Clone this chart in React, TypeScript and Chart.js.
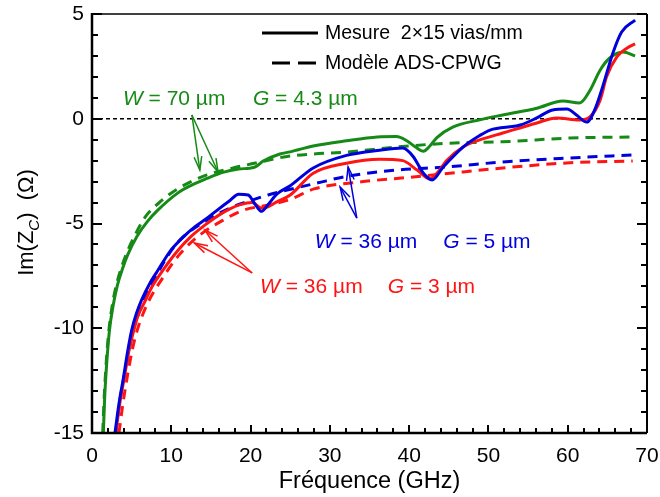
import React, { useEffect, useRef } from "react";
import { Chart, registerables } from "chart.js";
Chart.register(...registerables);

const FONT = "'Liberation Sans', Arial, Helvetica, sans-serif";

// axis ranges / ticks
const xMin = 0, xMax = 70, xMajor = 10, xMinor = 2;
const yMin = -15, yMax = 5, yMajor = 5, yMinor = 1;

// W = 70 µm, G = 4.3 µm — measurement
const fGreenMeas = [1.43, 1.6, 1.85, 2.2, 2.65, 3.2, 3.9, 4.5, 5.7, 7, 8.2, 10.8, 12.4, 14.5, 16.5, 18.5, 19.9, 20.6, 21.6, 23.7, 25, 27.9, 32.1, 36, 38.4, 39.7, 40.8, 41.8, 42.5, 43.5, 45.5, 48.9, 51.8, 56.1, 59.4, 61.5, 62.8, 64.1, 65.3, 67, 68.5];
const zGreenMeas = [-15, -13.3, -11.7, -10.1, -8.95, -7.95, -7.1, -6.5, -5.6, -4.9, -4.4, -3.55, -3.2, -2.85, -2.56, -2.4, -2.36, -2.3, -2.02, -1.68, -1.58, -1.3, -1.05, -0.87, -0.85, -1.05, -1.35, -1.55, -1.35, -0.9, -0.4, -0.05, 0.18, 0.5, 0.85, 0.75, 1.35, 2.33, 2.9, 3.19, 3.0];
// W = 70 µm — model
const fGreenModel = [1.35, 1.55, 1.8, 2.1, 2.6, 3.1, 3.8, 4.5, 5.3, 6.7, 8.8, 11, 14.5, 17.8, 20.8, 24.6, 28, 32.1, 38.4, 44.8, 51.8, 60.3, 68.5];
const zGreenModel = [-15, -13.2, -11.6, -10.2, -8.8, -7.9, -7.0, -6.3, -5.65, -4.7, -3.9, -3.3, -2.68, -2.35, -2.1, -1.8, -1.68, -1.59, -1.35, -1.17, -1.1, -0.92, -0.87];

// W = 36 µm, G = 5 µm — measurement
const fBlueMeas = [2.9, 3.4, 3.95, 4.5, 5.0, 5.6, 6.26, 7.3, 8.2, 9.8, 11.5, 13, 14.5, 16, 17.4, 18.5, 19.7, 20.6, 21.4, 22.2, 23.3, 25, 27.9, 32.1, 36.3, 39.2, 40.5, 41.8, 42.9, 44.3, 46.8, 48.9, 50.2, 54, 56.1, 58.1, 59.9, 61.1, 62.4, 63.4, 64.4, 65.7, 66.8, 68.5];
const zBlueMeas = [-15, -13.6, -12.4, -11.1, -10.1, -9.3, -8.65, -7.85, -7.3, -6.35, -5.65, -5.15, -4.75, -4.3, -3.9, -3.6, -3.64, -4.1, -4.42, -4.1, -3.6, -3.2, -2.35, -1.75, -1.5, -1.4, -1.8, -2.6, -2.92, -2.3, -1.35, -0.8, -0.54, -0.3, 0.04, 0.42, 0.46, 0.18, -0.16, 0.42, 1.52, 3.14, 4.14, 4.71];
// W = 36 µm, G = 5 µm — model
const fBlueModel = [3.0, 3.5, 4.1, 4.7, 5.2, 6.3, 8.3, 10.7, 14.2, 17.8, 19.5, 22.2, 24.1, 28.4, 32.1, 38.4, 44.8, 51.8, 60.3, 68.2];
const zBlueModel = [-15, -13.5, -12.2, -11.0, -10.1, -8.9, -7.35, -5.95, -4.9, -4.2, -3.97, -3.64, -3.45, -3.07, -2.75, -2.45, -2.3, -2.06, -1.87, -1.73];

// W = 36 µm, G = 3 µm — measurement
const fRedMeas = [3.0, 3.5, 4.1, 4.7, 5.2, 5.8, 6.7, 7.6, 9.0, 10.8, 12.4, 14.5, 16, 17.4, 18.7, 20.2, 21.4, 22.2, 23.3, 25, 27.9, 32.1, 36.3, 39.2, 41, 42.6, 43.5, 44.8, 46.8, 48.9, 51.8, 56.1, 58.6, 61.5, 62.8, 64.1, 64.9, 66.2, 67.5, 68.5];
const zRedMeas = [-15, -13.6, -12.3, -11.0, -10.2, -9.4, -8.7, -8.0, -7.2, -6.3, -5.65, -5.0, -4.6, -4.3, -4.1, -4.0, -4.26, -4.2, -3.97, -3.64, -2.6, -2.12, -1.93, -2.0, -2.45, -2.87, -2.6, -1.97, -1.35, -1.01, -0.68, -0.2, 0.04, -0.06, 0.09, 0.9, 2.0, 2.95, 3.38, 3.57];
// W = 36 µm, G = 3 µm — model
const fRedModel = [3.4, 3.9, 4.5, 5.1, 5.7, 6.9, 9.0, 11.1, 13.6, 16.5, 19, 22.4, 25, 28, 34.2, 40.5, 46.8, 51.8, 60.3, 68.2];
const zRedModel = [-15, -13.6, -12.2, -11.0, -10.1, -8.9, -7.55, -6.45, -5.55, -4.85, -4.38, -4.1, -3.85, -3.35, -3.0, -2.78, -2.54, -2.35, -2.1, -2.02];

// zero reference line
const fZero = [0, 70];
const zZero = [0, 0];

const GREEN = "#168a16";
const BLUE = "#0000dc";
const RED = "#ff1414";

const pts = (f: number[], z: number[]) => f.map((x, i) => ({ x, y: z[i] }));

// annotations (data coordinates)
const annotations = [
  { color: GREEN, wLabel: "70", gLabel: "4.3", wAt: [3.9, 0.656], gAt: [20.3, 0.656], tail: [12.6, 0.18], heads: [[13.6, -2.45], [15.9, -2.54]] },
  { color: BLUE, wLabel: "36", gLabel: "5", wAt: [28.1, -6.17], gAt: [44.3, -6.17], tail: [33.4, -4.74], heads: [[32.3, -2.3], [31.3, -3.26]] },
  { color: RED, wLabel: "36", gLabel: "3", wAt: [21.2, -8.32], gAt: [37.3, -8.32], tail: [20.2, -7.36], heads: [[14.25, -5.31], [12.9, -5.93]] },
];

const legendItems = [
  { label: "Mesure  2\u00d715 vias/mm", dash: [] as number[] },
  { label: "Mod\u00e8le ADS-CPWG", dash: [18, 8] },
];

const framePlugin = {
  id: "frameTicks",
  afterDatasetsDraw(chart: any) {
    const { ctx, chartArea: a, scales } = chart;
    const xs = scales.x, ys = scales.y;
    ctx.save();
    ctx.strokeStyle = "#000";
    ctx.lineCap = "butt";
    ctx.lineWidth = 2;
    for (let v = xMin; v <= xMax + 1e-9; v += xMinor) {
      const px = Math.round(xs.getPixelForValue(v));
      const major = Math.abs(v / xMajor - Math.round(v / xMajor)) < 1e-6;
      const len = major ? 8 : 5;
      ctx.beginPath();
      ctx.moveTo(px, a.bottom);
      ctx.lineTo(px, a.bottom - len);
      ctx.stroke();
    }
    for (let v = yMin; v <= yMax + 1e-9; v += yMinor) {
      const py = Math.round(ys.getPixelForValue(v));
      const major = Math.abs(v / yMajor - Math.round(v / yMajor)) < 1e-6;
      const len = major ? 10 : 6;
      ctx.beginPath();
      ctx.moveTo(a.left, py);
      ctx.lineTo(a.left + len, py);
      ctx.moveTo(a.right, py);
      ctx.lineTo(a.right - len, py);
      ctx.stroke();
    }
    ctx.lineWidth = 1.5;
    ctx.beginPath();
    ctx.moveTo(a.left, a.top);
    ctx.lineTo(a.right, a.top);
    ctx.stroke();
    ctx.lineWidth = 2.5;
    ctx.beginPath();
    ctx.moveTo(a.left, a.top - 1);
    ctx.lineTo(a.left, a.bottom);
    ctx.lineTo(a.right, a.bottom);
    ctx.stroke();
    ctx.lineWidth = 2;
    ctx.beginPath();
    ctx.moveTo(a.right, a.top);
    ctx.lineTo(a.right, a.bottom);
    ctx.stroke();
    ctx.restore();
  },
  afterDraw(chart: any) {
    const { ctx, chartArea: a, scales } = chart;
    const xs = scales.x, ys = scales.y;
    const X = (v: number) => xs.getPixelForValue(v);
    const Y = (v: number) => ys.getPixelForValue(v);
    ctx.save();

    // Y axis title with subscript
    const big = `22px ${FONT}`;
    const sub = `italic 15px ${FONT}`;
    const parts = [
      { t: "Im(Z", f: big, dy: 0 },
      { t: "C", f: sub, dy: 6 },
      { t: ")  (\u03a9)", f: big, dy: 0 },
    ];
    let total = 0;
    for (const p of parts) { ctx.font = p.f; total += ctx.measureText(p.t).width; }
    ctx.translate(33, (a.top + a.bottom) / 2 - 1);
    ctx.rotate(-Math.PI / 2);
    ctx.fillStyle = "#000";
    ctx.textBaseline = "alphabetic";
    ctx.textAlign = "left";
    let cx = -total / 2;
    for (const p of parts) {
      ctx.font = p.f;
      ctx.fillText(p.t, cx, p.dy);
      cx += ctx.measureText(p.t).width;
    }
    ctx.setTransform(1, 0, 0, 1, 0, 0);

    // legend
    const lx1 = a.left + 170, lx2 = a.left + 226, tx = a.left + 233;
    const ly = [a.top + 19, a.top + 49];
    legendItems.forEach((it, i) => {
      ctx.strokeStyle = "#000";
      ctx.lineWidth = 3;
      ctx.setLineDash(it.dash);
      ctx.beginPath();
      ctx.moveTo(it.dash.length ? lx1 + 10 : lx1, ly[i]);
      ctx.lineTo(lx2, ly[i]);
      ctx.stroke();
      ctx.setLineDash([]);
      ctx.font = `19.5px ${FONT}`;
      ctx.fillStyle = "#000";
      ctx.textBaseline = "middle";
      ctx.fillText(it.label, tx, ly[i] + 1);
    });

    // annotations
    for (const an of annotations) {
      ctx.fillStyle = an.color;
      ctx.strokeStyle = an.color;
      ctx.textBaseline = "alphabetic";
      const drawLabel = (sym: string, rest: string, at: number[]) => {
        let x = X(at[0]);
        const y = Y(at[1]);
        ctx.font = `italic 21px ${FONT}`;
        ctx.fillText(sym, x, y);
        x += ctx.measureText(sym).width;
        ctx.font = `21px ${FONT}`;
        ctx.fillText(rest, x, y);
      };
      drawLabel("W", " = " + an.wLabel + " \u00b5m", an.wAt);
      drawLabel("G", " = " + an.gLabel + " \u00b5m", an.gAt);
      const tx0 = X(an.tail[0]), ty0 = Y(an.tail[1]);
      ctx.lineWidth = 1.5;
      for (const h of an.heads) {
        const hx = X(h[0]), hy = Y(h[1]);
        ctx.beginPath();
        ctx.moveTo(tx0, ty0);
        ctx.lineTo(hx, hy);
        ctx.stroke();
        const ang = Math.atan2(hy - ty0, hx - tx0);
        const L = 14, w = 0.28;
        ctx.beginPath();
        ctx.moveTo(hx - L * Math.cos(ang - w), hy - L * Math.sin(ang - w));
        ctx.lineTo(hx, hy);
        ctx.lineTo(hx - L * Math.cos(ang + w), hy - L * Math.sin(ang + w));
        ctx.stroke();
      }
    }
    ctx.restore();
  },
};

const zeroPad = (s: any) => { s.paddingLeft = 0; s.paddingRight = 0; s.paddingTop = 0; s.paddingBottom = 0; };

export default function App() {
  const ref = useRef<HTMLCanvasElement | null>(null);
  useEffect(() => {
    if (!ref.current) return;
    const solid = (data: any, color: string) => ({
      data, borderColor: color, backgroundColor: color, borderWidth: 3, pointRadius: 0,
      showLine: true, fill: false, cubicInterpolationMode: "monotone" as const,
    });
    const dashed = (data: any, color: string) => ({ ...solid(data, color), borderDash: [10, 7] });
    const chart = new Chart(ref.current, {
      type: "scatter",
      data: {
        datasets: [
          solid(pts(fBlueMeas, zBlueMeas), BLUE),
          solid(pts(fRedMeas, zRedMeas), RED),
          solid(pts(fGreenMeas, zGreenMeas), GREEN),
          dashed(pts(fBlueModel, zBlueModel), BLUE),
          dashed(pts(fRedModel, zRedModel), RED),
          dashed(pts(fGreenModel, zGreenModel), GREEN),
          { data: pts(fZero, zZero), borderColor: "#000", borderWidth: 1.5, borderDash: [4, 3], pointRadius: 0, showLine: true },
        ] as any,
      },
      options: {
        responsive: false,
        devicePixelRatio: 1,
        animation: false,
        layout: { padding: { left: 0, top: 14, right: 13, bottom: 0 } },
        plugins: { legend: { display: false }, tooltip: { enabled: false } },
        scales: {
          x: {
            type: "linear", min: xMin, max: xMax,
            grid: { display: false, drawTicks: false },
            border: { display: false },
            ticks: { stepSize: xMajor, color: "#000", padding: 11, font: { family: FONT, size: 21 } },
            title: { display: true, text: "Fr\u00e9quence (GHz)", color: "#000", font: { family: FONT, size: 23.5 }, padding: { top: 0, bottom: 1 } },
            afterFit: (s: any) => { s.height = 64; zeroPad(s); },
          },
          y: {
            type: "linear", min: yMin, max: yMax,
            grid: { display: false, drawTicks: false },
            border: { display: false },
            ticks: {
              stepSize: yMajor, color: "#000", padding: 8, font: { family: FONT, size: 21 },
              callback: (v: any) => (v < 0 ? "-" + Math.abs(v) : String(v)),
            },
            afterFit: (s: any) => { s.width = 92; zeroPad(s); },
          },
        },
      },
      plugins: [framePlugin],
    });
    return () => chart.destroy();
  }, []);
  return (
    <div style={{ position: "absolute", left: 0, top: 0, width: 660, height: 497, background: "#fff" }}>
      <canvas ref={ref} width={660} height={497} />
    </div>
  );
}
